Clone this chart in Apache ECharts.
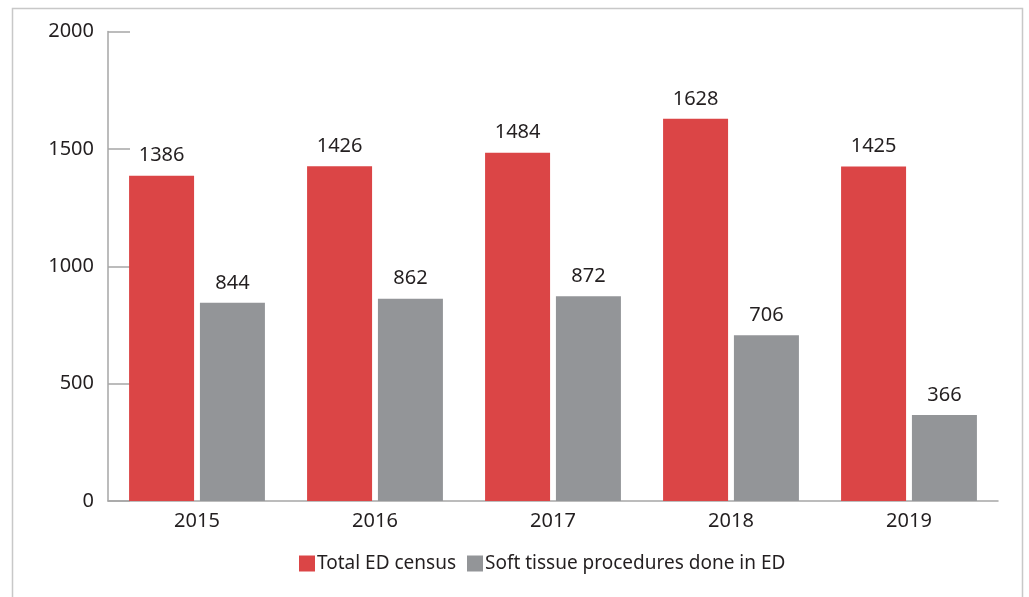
<!DOCTYPE html>
<html><head><meta charset="utf-8">
<script src="https://cdn.jsdelivr.net/npm/echarts@6/dist/echarts.min.js"></script>
<style>html,body{margin:0;padding:0;background:#fff}#c{width:1029px;height:597px}</style>
</head><body><div id="c"></div>
<script>
const categories = ['2015','2016','2017','2018','2019'];
const totalED = [1386,1426,1484,1628,1425];
const softTissue = [844,862,872,706,366];
const seriesNames = ['Total ED census','Soft tissue procedures done in ED'];
const FONT = '"Noto Sans", sans-serif';
const chart = echarts.init(document.getElementById('c'));
const lbl = {show:true, position:'top', distance:10, color:'#231f20', fontSize:20, fontFamily:FONT};
chart.setOption({
  animation:false,
  graphic:[{type:'rect', shape:{x:12.5,y:8.5,width:1010,height:620}, style:{fill:'none', stroke:'#c8c8c8', lineWidth:1.5}, silent:true}],
  grid:{left:108, right:31, top:31.5, bottom:96},
  legend:{left:294, top:549, itemWidth:16, itemHeight:16, itemGap:11, icon:'rect',
    textStyle:{fontSize:19, color:'#231f20', fontFamily:FONT, padding:[0,0,0,-3]},
    data:seriesNames},
  xAxis:{type:'category', data:categories,
    axisLine:{lineStyle:{color:'#a6a6a6', width:1.5}},
    axisTick:{inside:true, length:11, lineStyle:{color:'#a6a6a6', width:1.5}},
    axisLabel:{color:'#231f20', fontSize:20, fontFamily:FONT, margin:10}},
  yAxis:{type:'value', min:0, max:2000, interval:500,
    axisLine:{show:true, lineStyle:{color:'#a6a6a6', width:1.5}},
    axisTick:{show:true, inside:true, length:22, lineStyle:{color:'#a6a6a6', width:1.5}},
    splitLine:{show:false},
    axisLabel:{color:'#231f20', fontSize:20, fontFamily:FONT, margin:14, formatter:function(v){return String(v);}}},
  series:[
    {name:seriesNames[0], type:'bar', data:totalED, barWidth:65, barGap:'9%', itemStyle:{color:'#db4546'}, label:lbl},
    {name:seriesNames[1], type:'bar', data:softTissue, barWidth:65, itemStyle:{color:'#939598'}, label:lbl}
  ]
});
</script></body></html>
